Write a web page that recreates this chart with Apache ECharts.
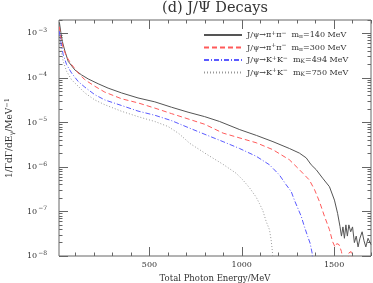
<!DOCTYPE html>
<html>
<head>
<meta charset="utf-8">
<script src="https://cdn.jsdelivr.net/npm/echarts@6.0.0/dist/echarts.min.js"></script>
<style>
html,body{margin:0;padding:0;background:#fff;}
#chart{width:373px;height:283px;}
</style>
</head>
<body>
<div id="chart"></div>
<script>
// ---- data ----
var xMajorTicks = [500, 1000, 1500];
var xMinorTicks = [100,200,300,400,500,600,700,800,900,1000,1100,1200,1300,1400,1500,1600,1700];
var yMajorTicks = [1e-8, 1e-7, 1e-6, 1e-5, 1e-4, 1e-3];
var yMinorTicks = [];
[1e-8,1e-7,1e-6,1e-5,1e-4,1e-3].forEach(function(d){ [2,3,4,5,6,7,8,9].forEach(function(m){ if (m*d <= 2e-3) yMinorTicks.push(m*d); }); });

var seriesNames = ['pipi140', 'pipi300', 'kk494', 'kk750'];

var ePipi140 = [12,20,28,42,60,96,132,168,222,276,349,438,529,619,709,799,880,989,1080,1169,1258,1312,1349,1376,1403,1438,1475,1502,1519,1532,
  1540,1548,1556,1564,1572,1580,1590,1600,1610,1620,1630,1640,1652,1662,1672,1684,1700];
var vPipi140 = [1.78e-3,1.05e-3,6.6e-4,4.0e-4,2.35e-4,1.51e-4,1.17e-4,9.5e-5,7.4e-5,5.9e-5,4.6e-5,3.55e-5,2.9e-5,2.2e-5,1.7e-5,1.35e-5,1.05e-5,6.9e-6,5.1e-6,3.7e-6,2.6e-6,2.05e-6,1.6e-6,1.12e-6,8.7e-7,5.6e-7,3.6e-7,1.8e-7,9.1e-8,4.6e-8,
  2.8e-8,4.5e-8,2.5e-8,5.0e-8,2.8e-8,5.0e-8,3.5e-8,4.5e-8,2.0e-8,2.8e-8,1.6e-8,2.5e-8,3.5e-8,2.2e-8,1.6e-8,2.5e-8,1.8e-8];

var ePipi300 = [12,20,33,51,78,114,150,204,258,349,438,529,619,709,799,899,1078,1168,1258,1312,1366,1394,1421,1448,1475,1492,1505,1515,1527,1540,1555,1570,1580,1592,1602,1610];
var vPipi300 = [1.41e-3,7.9e-4,4.7e-4,3.0e-4,2.0e-4,1.29e-4,9.1e-5,6.5e-5,4.8e-5,3.4e-5,2.75e-5,2.1e-5,1.58e-5,1.2e-5,9.1e-6,5.75e-6,3.5e-6,2.45e-6,1.45e-6,8.7e-7,5.1e-7,3.1e-7,1.66e-7,7.8e-8,3.9e-8,2.1e-8,1.6e-8,1.9e-8,1.8e-8,1.26e-8,5e-9,5e-9,1.17e-8,1.26e-8,1.38e-8,5e-9];

var eKk494 = [12,20,33,51,78,114,150,204,258,349,438,529,619,719,810,899,988,1078,1150,1204,1240,1268,1285,1303,1322,1339,1357,1370,1381,1388];
var vKk494 = [1.12e-3,6.3e-4,3.3e-4,2.0e-4,1.29e-4,8.3e-5,6.2e-5,4.2e-5,3.2e-5,2.4e-5,1.8e-5,1.45e-5,1.1e-5,7.4e-6,5.2e-6,3.7e-6,2.6e-6,1.74e-6,1.12e-6,6.6e-7,4.0e-7,2.8e-7,1.8e-7,1.2e-7,7.8e-8,4.6e-8,2.75e-8,1.95e-8,1.17e-8,5e-9];

var eKk750 = [12,20,33,51,78,114,150,204,258,349,438,529,601,660,718,808,898,970,1006,1042,1078,1096,1114,1132,1150,1159,1166,1170];
var vKk750 = [8.9e-4,4.5e-4,2.35e-4,1.41e-4,9.1e-5,6.5e-5,4.6e-5,3.2e-5,2.5e-5,1.78e-5,1.35e-5,1.05e-5,8.1e-6,5.6e-6,3.4e-6,1.95e-6,1.15e-6,7.2e-7,5.1e-7,3.4e-7,2.1e-7,1.5e-7,1.05e-7,6.0e-8,3.9e-8,2.3e-8,1.26e-8,5e-9];

var legendLabels = {
  pipi140: 'J/ψ→π{sup|+}π{sup|−}  m{sub|π}=140 MeV',
  pipi300: 'J/ψ→π{sup|+}π{sup|−}  m{sub|π}=300 MeV',
  kk494:   'J/ψ→K{sup|+}K{sup|−}  m{sub|K}=494 MeV',
  kk750:   'J/ψ→K{sup|+}K{sup|−}  m{sub|K}=750 MeV'
};

function zip(e, v){ return e.map(function(x,i){ return [x, v[i]]; }); }

var FONT = 'DejaVu Serif';
var TXT = '#333';
var FRAME = '#666';

function xAx(pos, ticks, len, labels){
  return {
    type:'value', position: pos, min: 10, max: 1700,
    axisLine:{show:false}, splitLine:{show:false},
    axisTick:{show:true, inside:true, length: len, customValues: ticks, lineStyle:{color:FRAME, width:1}},
    axisLabel:{show: !!labels, customValues: ticks, margin: 5, fontFamily: FONT, fontSize: 8, color: TXT,
      formatter: function(v){ return String(v); }}
  };
}
function yAx(pos, ticks, len, labels){
  return {
    type:'log', logBase:10, position: pos, min: 1e-8, max: 2e-3,
    axisLine:{show:false}, splitLine:{show:false}, minorTick:{show:false},
    axisTick:{show:true, inside:true, length: len, customValues: ticks, lineStyle:{color:FRAME, width:1}},
    axisLabel:{show: !!labels, customValues: ticks, margin: 12, fontFamily: FONT, fontSize: 8, color: TXT,
      formatter: function(v){ var n = Math.round(Math.log10(v)); return '{a|10}{s|−' + (-n) + '}'; },
      rich:{ a:{fontFamily:FONT, fontSize:8, color:TXT}, s:{fontFamily:FONT, fontSize:6, color:TXT, padding:[0,0,6,1]} } }
  };
}

var xAxes = [ xAx('bottom', xMajorTicks, 9, true), xAx('bottom', xMinorTicks, 3.5, false), xAx('top', xMajorTicks, 9, false), xAx('top', xMinorTicks, 3.5, false) ];
xAxes[0].name = 'Total Photon Energy/MeV';
xAxes[0].nameLocation = 'middle';
xAxes[0].nameGap = 17;
xAxes[0].nameTextStyle = {fontFamily: FONT, fontSize: 8.5, color: TXT};

var yAxes = [ yAx('left', yMajorTicks, 9, true), yAx('left', yMinorTicks, 3.5, false), yAx('right', yMajorTicks, 9, false), yAx('right', yMinorTicks, 3.5, false) ];
yAxes[0].name = '1/ΓdΓ/dE{sub|γ}/MeV{sup|−1}';
yAxes[0].nameLocation = 'middle';
yAxes[0].nameGap = 42;
yAxes[0].nameTextStyle = {fontFamily: FONT, fontSize: 9, color: TXT,
  rich:{ sub:{fontFamily:FONT, fontSize:6.5, color:TXT, padding:[5,0,0,0]}, sup:{fontFamily:FONT, fontSize:6.5, color:TXT, padding:[0,0,6,0]} } };

function lineSeries(name, e, v, color, dash, width){
  return { name:name, type:'line', xAxisIndex:0, yAxisIndex:0, data: zip(e, v), showSymbol:false, symbol:'none',
    clip:true, animation:false, lineStyle:{color:color, width:width, type:dash}, itemStyle:{color:color} };
}

var chart = echarts.init(document.getElementById('chart'), null, {renderer:'canvas'});
chart.setOption({
  animation:false,
  backgroundColor:'#fff',
  title:{ text:'(d) J/Ψ Decays', left: 215, textAlign:'center', top: 1, padding: 0,
    textStyle:{fontFamily:FONT, fontSize:14.5, fontWeight:'normal', color:TXT} },
  grid:{ left:59, right:2, top:20, bottom:27, show:true, borderColor:FRAME, borderWidth:1, backgroundColor:'transparent',
    containLabel:false, outerBoundsMode:'none' },
  legend:{ orient:'vertical', left:203, top:30, padding:0, itemWidth:38, itemHeight:8, itemGap:3,
    data: seriesNames,
    itemStyle:{color:'transparent', borderWidth:0},
    formatter: function(n){ return legendLabels[n]; },
    textStyle:{fontFamily:FONT, fontSize:8, color:TXT,
      rich:{ sup:{fontFamily:FONT, fontSize:6, color:TXT, padding:[0,0,4,0]}, sub:{fontFamily:FONT, fontSize:6, color:TXT, padding:[3,0,0,0]} } } },
  xAxis: xAxes,
  yAxis: yAxes,
  series:[
    lineSeries('pipi140', ePipi140, vPipi140, '#555555', 'solid', 1),
    lineSeries('pipi300', ePipi300, vPipi300, '#ff5a5a', [5,3], 1),
    lineSeries('kk494', eKk494, vKk494, '#5a5aff', [5,2,1,2], 1),
    lineSeries('kk750', eKk750, vKk750, '#999999', [1,2], 1)
  ]
});
</script>
</body>
</html>
